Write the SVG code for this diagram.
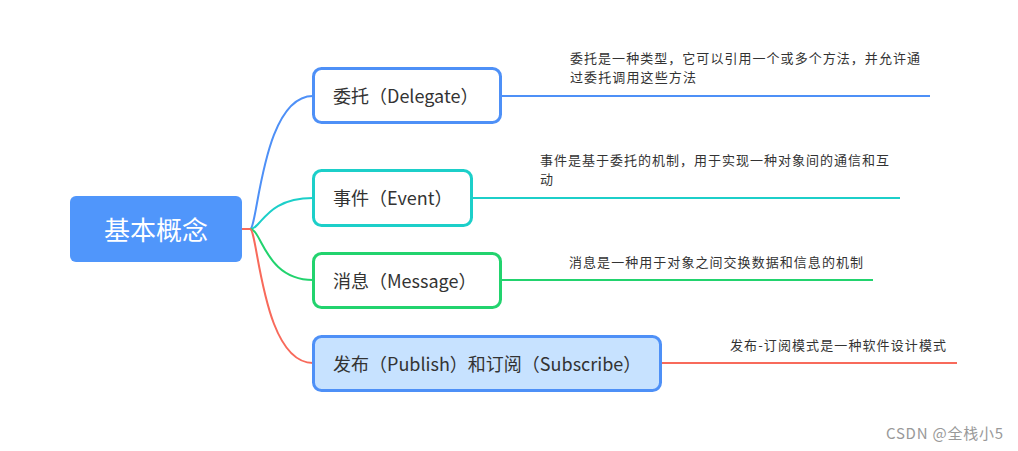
<svg xmlns="http://www.w3.org/2000/svg" width="1018" height="451" viewBox="0 0 1018 451">
<style>
.t{font-family:"Noto Sans CJK SC","Microsoft YaHei",sans-serif;fill:#333}
.node{font-size:18px}
.desc{font-size:13px}
.box{stroke-width:3;fill:#fff}
.c{fill:none;stroke-width:2}
</style>
<rect width="1018" height="451" fill="#fff"/>
<g id="connectors">
<path class="c" stroke="#f86a5b" d="M242 229 H250"/>
<path class="c" stroke="#4e90f7" d="M250 229 C258 229 262 96 313 96 M501 96 H930"/>
<path class="c" stroke="#1ccfc9" d="M250 229 C262 229 265 198 313 198 M472 198 H900"/>
<path class="c" stroke="#22d36e" d="M250 229 C262 229 265 280 313 280 M501 280 H873"/>
<path class="c" stroke="#f86a5b" d="M250 229 C258 229 262 363 313 363 M661 363 H957"/>
</g>
<g id="root">
<rect x="70" y="196" width="172" height="66" rx="6" fill="#5096fb"/>
<text x="156" y="240" text-anchor="middle" class="t" style="fill:#fff;font-size:26px">基本概念</text>
</g>
<g id="delegate">
<rect class="box" x="313.5" y="68.5" width="187" height="54" rx="8" stroke="#4e90f7"/>
<text class="t node" x="333" y="103">委托（Delegate）</text>
<text class="t desc" x="570" y="63" textLength="350">委托是一种类型，它可以引用一个或多个方法，并允许通</text>
<text class="t desc" x="570" y="82" textLength="126">过委托调用这些方法</text>
</g>
<g id="event">
<rect class="box" x="313.5" y="170.5" width="158" height="55" rx="8" stroke="#1ccfc9"/>
<text class="t node" x="333" y="205">事件（Event）</text>
<text class="t desc" x="540" y="165" textLength="349">事件是基于委托的机制，用于实现一种对象间的通信和互</text>
<text class="t desc" x="540" y="184">动</text>
</g>
<g id="message">
<rect class="box" x="313.5" y="253.5" width="187" height="54" rx="8" stroke="#22d36e"/>
<text class="t node" x="333" y="288">消息（Message）</text>
<text class="t desc" x="569" y="267" textLength="294">消息是一种用于对象之间交换数据和信息的机制</text>
</g>
<g id="publish">
<rect x="313.5" y="336.5" width="347" height="54" rx="8" stroke="#4e90f7" stroke-width="3" fill="#c7e2ff"/>
<text class="t node" x="333" y="371">发布（Publish）和订阅（Subscribe）</text>
<text class="t desc" x="730" y="350" textLength="216">发布-订阅模式是一种软件设计模式</text>
</g>
<text x="886" y="439" textLength="117" style="font-family:'Noto Sans CJK SC',sans-serif;font-size:15px;fill:#999">CSDN @全栈小5</text>
</svg>
